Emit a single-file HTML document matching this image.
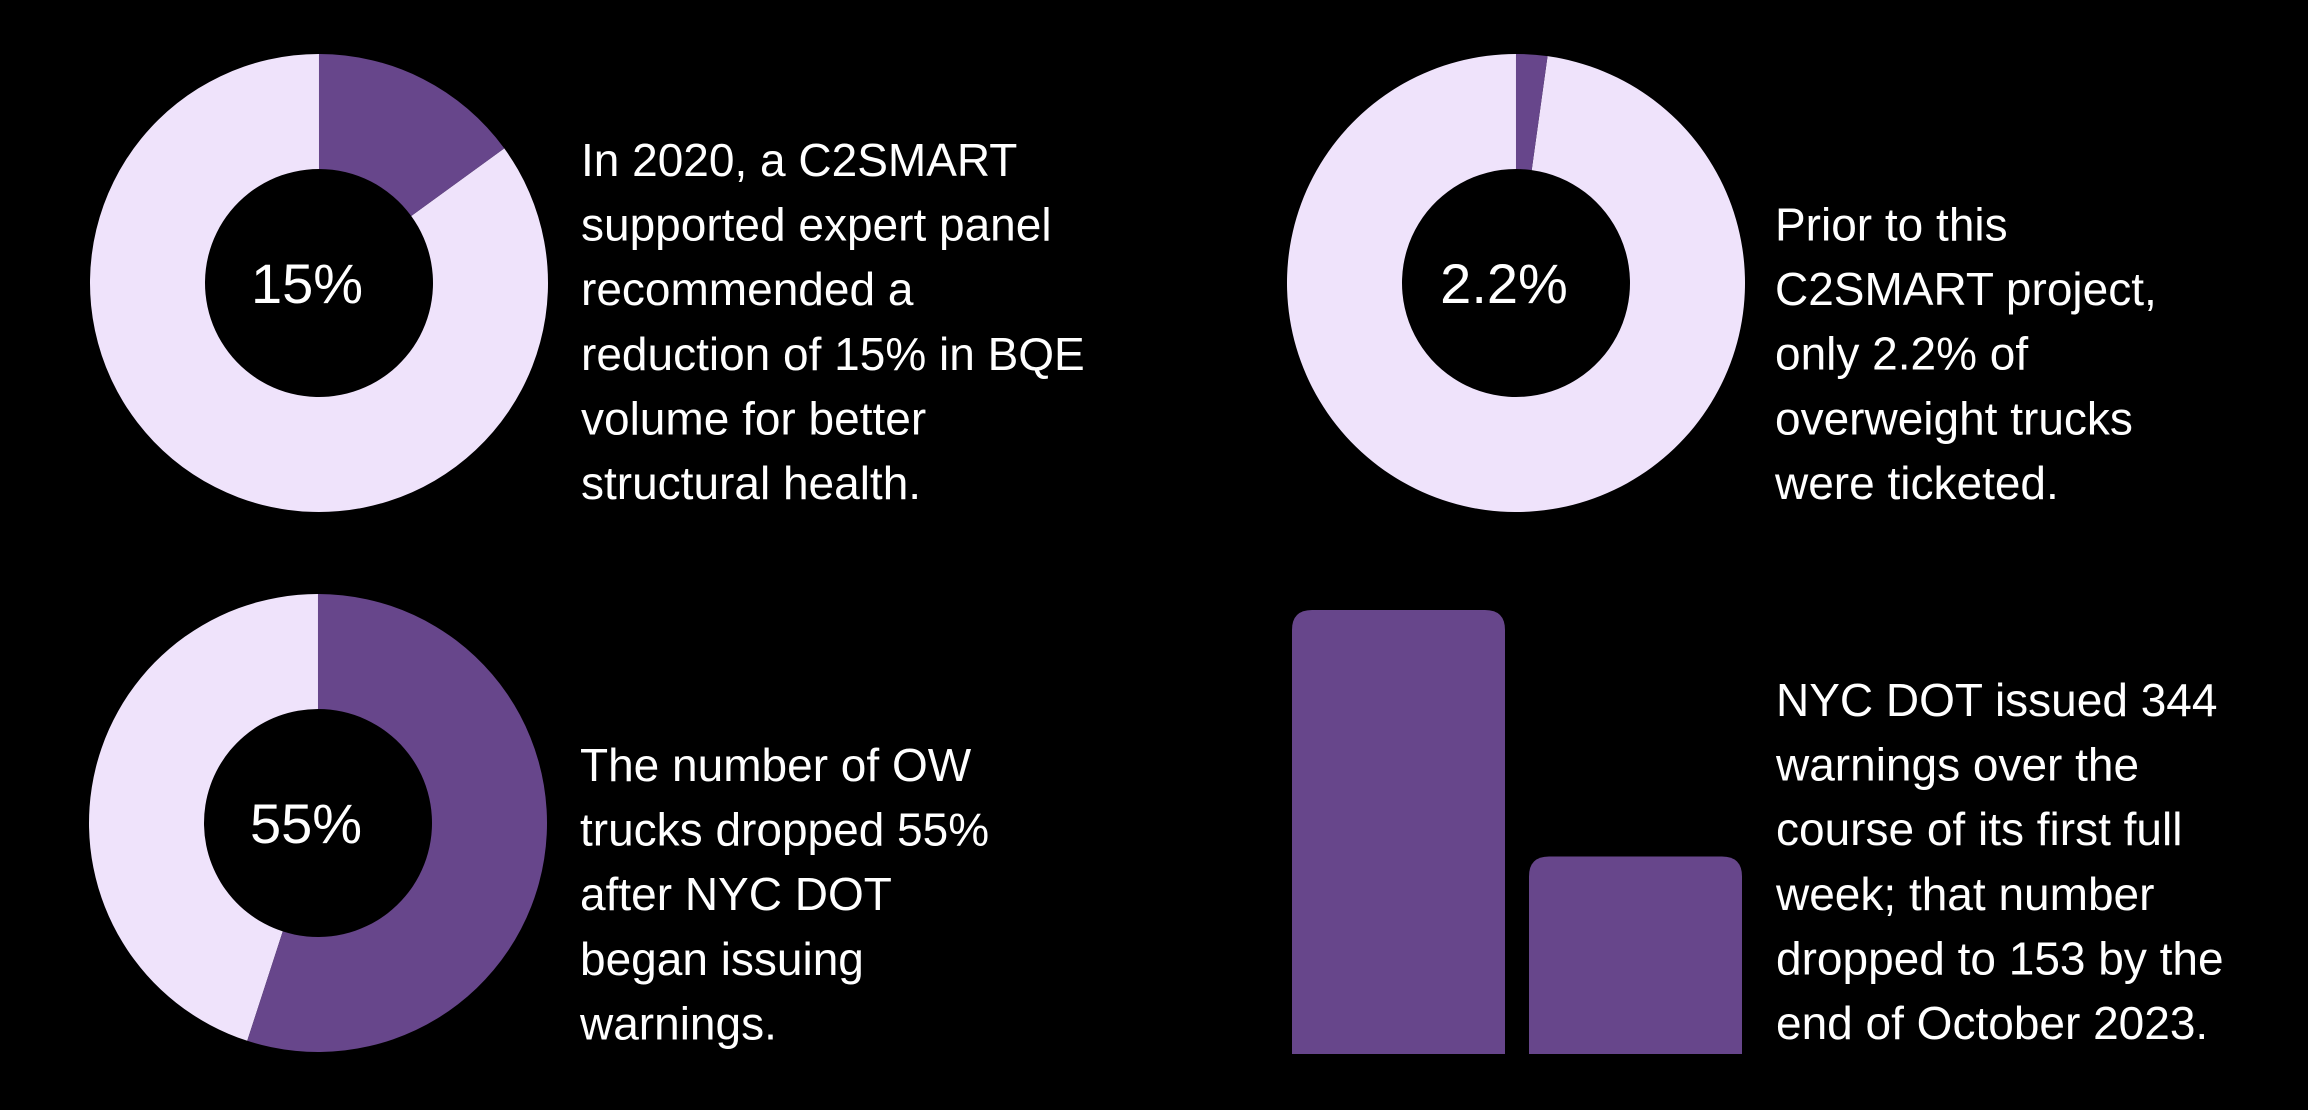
<!DOCTYPE html>
<html><head><meta charset="utf-8"><style>
html,body{margin:0;padding:0;background:#000;}
svg{display:block;}
text{font-family:"Liberation Sans",sans-serif;fill:#fff;}
</style></head><body>
<svg id="c" width="2308" height="1110" viewBox="0 0 2308 1110">
<rect width="2308" height="1110" fill="#000"/>
</svg>
<script>
const donutValues = [15, 2.2, 55];
const donutLabels = ["15%", "2.2%", "55%"];
const barCategories = ["first-full-week", "end-october-2023"];
const barValues = [344, 153];
const paragraphs = [
 ["In 2020, a C2SMART","supported expert panel","recommended a","reduction of 15% in BQE","volume for better","structural health."],
 ["Prior to this","C2SMART project,","only 2.2% of","overweight trucks","were ticketed."],
 ["The number of OW","trucks dropped 55%","after NYC DOT","began issuing","warnings."],
 ["NYC DOT issued 344","warnings over the","course of its first full","week; that number","dropped to 153 by the","end of October 2023."]
];
const NS="http://www.w3.org/2000/svg";
const svg=document.getElementById('c');
function mk(t,a){const e=document.createElementNS(NS,t);for(const k in a)e.setAttribute(k,a[k]);svg.appendChild(e);return e;}
const PURPLE="#67468b", LIGHT="#efe3fb";
const centers=[[319,283],[1516,283],[318,823]];
const R=229, r=114;
function arcPath(cx,cy,a0,a1){
  const p=(a,rad)=>[cx+rad*Math.sin(a),cy-rad*Math.cos(a)];
  const large=(a1-a0)>Math.PI?1:0;
  const [x0,y0]=p(a0,R),[x1,y1]=p(a1,R),[x2,y2]=p(a1,r),[x3,y3]=p(a0,r);
  return `M${x0},${y0} A${R},${R} 0 ${large} 1 ${x1},${y1} L${x2},${y2} A${r},${r} 0 ${large} 0 ${x3},${y3} Z`;
}
donutValues.forEach((v,i)=>{
  const [cx,cy]=centers[i];
  const a=v/100*2*Math.PI;
  const rest=mk('path',{d:arcPath(cx,cy,a,2*Math.PI-0.0001),fill:LIGHT});
  
  
  const seg=mk('path',{d:arcPath(cx,cy,0,a),fill:PURPLE});
  
  
  const t=mk('text',{x:cx-12,y:cy+20,'font-size':56,'text-anchor':'middle'});
  t.textContent=donutLabels[i];
  
  
});
const baseY=1054, maxH=444, maxV=344, barX=[1292,1529], barW=213;
barValues.forEach((v,i)=>{
  const h=v/maxV*maxH, x=barX[i], y=baseY-h, rr=20;
  const b=mk('path',{d:`M${x},${baseY} L${x},${y+rr} Q${x},${y} ${x+rr},${y} L${x+barW-rr},${y} Q${x+barW},${y} ${x+barW},${y+rr} L${x+barW},${baseY} Z`,fill:PURPLE});
  
  
});
const pos=[[581,176],[1775,240.5],[580,781],[1776,716]];
paragraphs.forEach((lines,i)=>{
  const [x,y0]=pos[i];
  const t=mk('text',{x:x,y:y0,'font-size':46});
  
  
  lines.forEach((l,j)=>{
    const s=document.createElementNS(NS,'tspan');
    s.setAttribute('x',x);s.setAttribute('y',y0+j*64.6);
    s.textContent=l;t.appendChild(s);
  });
});
</script>
</body></html>
